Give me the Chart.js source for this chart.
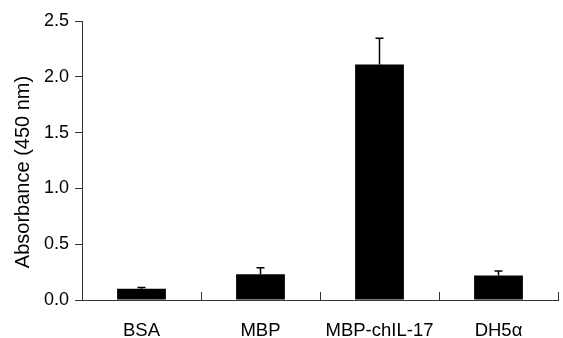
<!DOCTYPE html>
<html>
<head>
<meta charset="utf-8">
<script src="https://cdn.jsdelivr.net/npm/chart.js@4"></script>
<style>
  html, body { margin: 0; padding: 0; background: #fff; }
  #wrap { width: 563px; height: 338px; }
</style>
</head>
<body>
<div id="wrap"><canvas id="myChart"></canvas></div>
<script>
// Daten
var categories = ["BSA", "MBP", "MBP-chIL-17", "DH5\u03b1"];
var absorbance = [0.10, 0.23, 2.11, 0.22];
var errorUp = [0.012, 0.06, 0.235, 0.04];
var yTicks = [0, 0.5, 1.0, 1.5, 2.0, 2.5];
var yTitle = "Absorbance (450 nm)";

var axisColor = "#333";
var fontFam = "'Liberation Sans', Arial, sans-serif";

// Fehlerbalken + Striche zwischen den Kategorien
var extras = {
    id: 'extras',
    afterDatasetsDraw: function (chart) {
        var ctx = chart.ctx;
        var meta = chart.getDatasetMeta(0);
        var y = chart.scales.y;
        var x = chart.scales.x;
        ctx.save();
        ctx.strokeStyle = "#000";
        ctx.lineWidth = 1.5;
        meta.data.forEach(function (bar, i) {
            var top = y.getPixelForValue(absorbance[i]);
            var tip = y.getPixelForValue(absorbance[i] + errorUp[i]);
            ctx.beginPath();
            ctx.moveTo(bar.x, top);
            ctx.lineTo(bar.x, tip);
            ctx.moveTo(bar.x - 4, tip);
            ctx.lineTo(bar.x + 4, tip);
            ctx.stroke();
        });
        // Kategorie-Grenzen
        ctx.strokeStyle = axisColor;
        ctx.lineWidth = 1;
        var half = (x.getPixelForValue(1) - x.getPixelForValue(0)) / 2;
        for (var i = 0; i < categories.length; i++) {
            var px = Math.round(x.getPixelForValue(i) + half) + 0.5;
            ctx.beginPath();
            ctx.moveTo(px, chart.chartArea.bottom);
            ctx.lineTo(px, chart.chartArea.bottom - 8);
            ctx.stroke();
        }
        // Achsentitel
        ctx.fillStyle = "#000";
        ctx.font = "20px " + fontFam;
        ctx.textAlign = "center";
        ctx.textBaseline = "middle";
        ctx.translate(23, 172);
        ctx.rotate(-Math.PI / 2);
        ctx.fillText(yTitle, 0, 0);
        ctx.restore();
    }
};

new Chart("myChart", {
    type: "bar",
    data: {
        labels: categories,
        datasets: [{
            data: absorbance,
            backgroundColor: "#000",
            borderWidth: 0,
            barPercentage: 0.41,
            categoryPercentage: 1.0
        }]
    },
    options: {
        responsive: true,
        maintainAspectRatio: false,
        animation: false,
        events: [],
        layout: { padding: { top: 21, right: 5, left: 0, bottom: 0 } },
        plugins: {
            legend: { display: false },
            tooltip: { enabled: false }
        },
        scales: {
            x: {
                grid: { display: false },
                border: { display: true, color: axisColor, width: 1 },
                ticks: {
                    color: "#000",
                    font: { family: fontFam, size: 18.5 },
                    padding: 12,
                    maxRotation: 0
                },
                afterFit: function (scale) { scale.height = 38; }
            },
            y: {
                min: 0,
                max: 2.5,
                afterBuildTicks: function (scale) {
                    scale.ticks = yTicks.map(function (v) { return { value: v }; });
                },
                grid: {
                    drawOnChartArea: false,
                    drawTicks: true,
                    tickLength: 7,
                    tickColor: axisColor
                },
                border: { display: true, color: axisColor, width: 1 },
                ticks: {
                    color: "#000",
                    font: { family: fontFam, size: 18 },
                    padding: 6,
                    callback: function (v) { return Number(v).toFixed(1); }
                },
                afterFit: function (scale) { scale.width = 82; }
            }
        }
    },
    plugins: [extras]
});
</script>
</body>
</html>
